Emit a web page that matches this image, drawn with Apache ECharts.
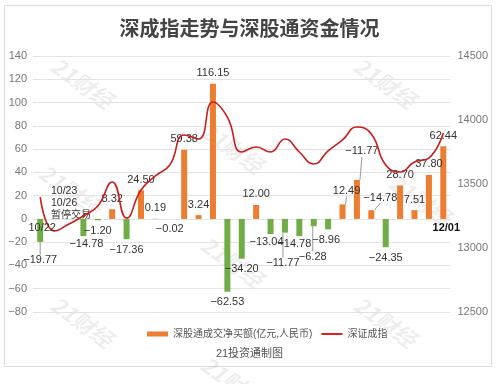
<!DOCTYPE html>
<html>
<head>
<meta charset="utf-8">
<script src="https://cdn.jsdelivr.net/npm/echarts@6/dist/echarts.min.js"></script>
<style>html,body{margin:0;padding:0;background:#fff}#c{width:499px;height:384px}</style>
</head>
<body>
<div id="c"></div>
<script>
// ---- data ----
const categories = ['10/22','10/23','10/26','10/27','10/28','10/29','10/30','11/02','11/03','11/04','11/05','11/06','11/09','11/10','11/11','11/12','11/13','11/16','11/17','11/18','11/19','11/20','11/23','11/24','11/25','11/26','11/27','11/30','12/01'];
const netBuy = [-19.77,null,null,-14.78,-1.20,8.32,-17.36,24.50,0.19,-0.02,59.38,3.24,116.15,-62.53,-34.20,12.00,-13.04,-11.77,-14.78,-6.28,-8.96,12.49,33.5,7.5,-24.35,28.70,7.51,37.80,62.44];
const netBuyLabels = ['-19.77','','','-14.78','-1.20','8.32','-17.36','24.50','0.19','-0.02','59.38','3.24','116.15','-62.53','-34.20','12.00','-13.04','-11.77','-14.78','-6.28','-8.96','12.49','-11.77','-14.78','-24.35','28.70','7.51','37.80','62.44'];
const szIndex = [13398,13133,13188,13250,13328,13516,13234,13453,13563,13648,13883,13852,14141,14023,13750,13789,13750,13852,13750,13656,13758,13844,13945,13891,13648,13594,13672,13703,13898];
const leftTicks = {min: -80, max: 140, interval: 20};
const rightTicks = {min: 12500, max: 14500, interval: 500};
const seriesNames = ['深股通成交净买额(亿元,人民币)', '深证成指'];
const titleText = '深成指走势与深股通资金情况';
const sourceText = '21投资通制图';
const suspendNote = ['10/23', '10/26', '暂停交易'];

// ---- layout tweaks for individual labels (dx, dy, leader line) ----
const labelNudge = {
  0: [0, 8, true], 3: [3, -3, false], 16: [-4, -3, false], 17: [-2, 20, true],
  18: [-5, -3, false], 19: [-1, 20, true], 20: [-2, 0, false], 21: [4, -3, true],
  22: [5, -18, true], 23: [9, -2, true]
};

const FONT = '"Liberation Sans", "Noto Sans CJK SC", sans-serif';
const ORANGE = '#ED7D31', GREEN = '#70AD47', RED = '#CC1B1B';
const minus = s => String(s).replace('-', '\u2212');

const barData = netBuy.map((v, i) => {
  if (v === null) return '-';
  const item = {value: v, itemStyle: {color: v >= 0 ? ORANGE : GREEN}};
  if (v < 0) item.label = {position: 'bottom'};
  if (labelNudge[i] && labelNudge[i][2]) item.labelLine = {show: true};
  return item;
});

const lastIdx = categories.length - 1;
const dateMarks = [
  {coord: [categories[0], 0], label: {formatter: categories[0], color: '#333', fontWeight: 'normal', offset: [2, 0]}},
  {coord: [categories[lastIdx], 0], label: {formatter: categories[lastIdx], color: '#111', fontWeight: 'bold', offset: [3, 0]}}
];

const marks = [[82,83],[385,83],[232,148],[70,190],[420,200],[232,262],[82,322],[385,322],[232,382]];
const watermarks = marks.map(p => ({
  type: 'text', x: p[0], y: p[1], rotation: -0.62, z: -1, silent: true,
  style: {text: '21财经', fill: 'rgba(0,0,0,0.07)', font: 'bold italic 22px "Noto Sans CJK SC"', textAlign: 'center', textVerticalAlign: 'middle'}
}));

const chart = echarts.init(document.getElementById('c'), null, {renderer: 'canvas'});
chart.setOption({
  animation: false,
  textStyle: {fontFamily: FONT},
  title: [
    {text: titleText, left: 'center', top: 15, textStyle: {fontSize: 20, fontWeight: 'bold', color: '#444', fontFamily: FONT}},
    {text: sourceText, left: 'center', top: 343, textStyle: {fontSize: 11, fontWeight: 'normal', color: '#555', fontFamily: FONT}}
  ],
  legend: {
    left: 142, top: 324, itemWidth: 21, itemHeight: 5, itemGap: 9,
    textStyle: {fontSize: 10, color: '#555'},
    data: [
      {name: seriesNames[0], icon: 'rect'},
      {name: seriesNames[1], icon: 'path://M0,0H21V2H0Z', itemStyle: {color: '#E02020'}}
    ]
  },
  grid: {left: 33, right: 48.5, top: 56, bottom: 72},
  xAxis: {
    type: 'category', data: categories, boundaryGap: true,
    axisLine: {show: false}, axisTick: {show: false}, axisLabel: {show: false}
  },
  yAxis: [
    {type: 'value', min: leftTicks.min, max: leftTicks.max, interval: leftTicks.interval,
     axisLine: {show: false}, axisTick: {show: false},
     axisLabel: {fontSize: 11, color: '#777', margin: 6, formatter: v => minus(v)},
     splitLine: {lineStyle: {color: '#e3e3e3', width: 1}}},
    {type: 'value', min: rightTicks.min, max: rightTicks.max, interval: rightTicks.interval,
     axisLine: {show: false}, axisTick: {show: false},
     axisLabel: {fontSize: 11, color: '#777', margin: 7, formatter: v => String(v)},
     splitLine: {show: false}}
  ],
  series: [
    {
      name: seriesNames[0], type: 'bar', data: barData, barWidth: 6, itemStyle: {color: ORANGE},
      label: {show: true, fontSize: 11, color: '#333', distance: 5,
        position: 'top',
        formatter: p => minus(netBuyLabels[p.dataIndex])},
      labelLine: {show: false, lineStyle: {color: '#999', width: 1}},
      labelLayout: (p) => {
        if (p.seriesIndex !== 0 || p.dataType) return {};
        const n = labelNudge[p.dataIndex];
        return n ? {dx: n[0], dy: n[1]} : {};
      },
      markPoint: {
        symbol: 'circle', symbolSize: 0, silent: true,
        label: {show: true, position: 'bottom', distance: 4, fontSize: 11},
        data: dateMarks
      }
    },
    {
      name: seriesNames[1], type: 'line', yAxisIndex: 1, data: szIndex, smooth: true,
      symbol: 'none', lineStyle: {color: RED, width: 1.6}, itemStyle: {color: RED}, z: 3
    }
  ],
  graphic: [
    {type: 'rect', shape: {x: 4.5, y: 5.5, width: 487, height: 361}, style: {fill: 'none', stroke: '#dcdcdc', lineWidth: 1}, silent: true, z: -2},
    ...watermarks,
    {type: 'text', x: 51, y: 186, style: {text: suspendNote[0], font: '10.5px ' + FONT, fill: '#333'}},
    {type: 'text', x: 51, y: 198, style: {text: suspendNote[1], font: '10.5px ' + FONT, fill: '#333'}},
    {type: 'text', x: 51, y: 210, style: {text: suspendNote[2], font: '10px ' + FONT, fill: '#333'}}
  ]
});
</script>
</body>
</html>
